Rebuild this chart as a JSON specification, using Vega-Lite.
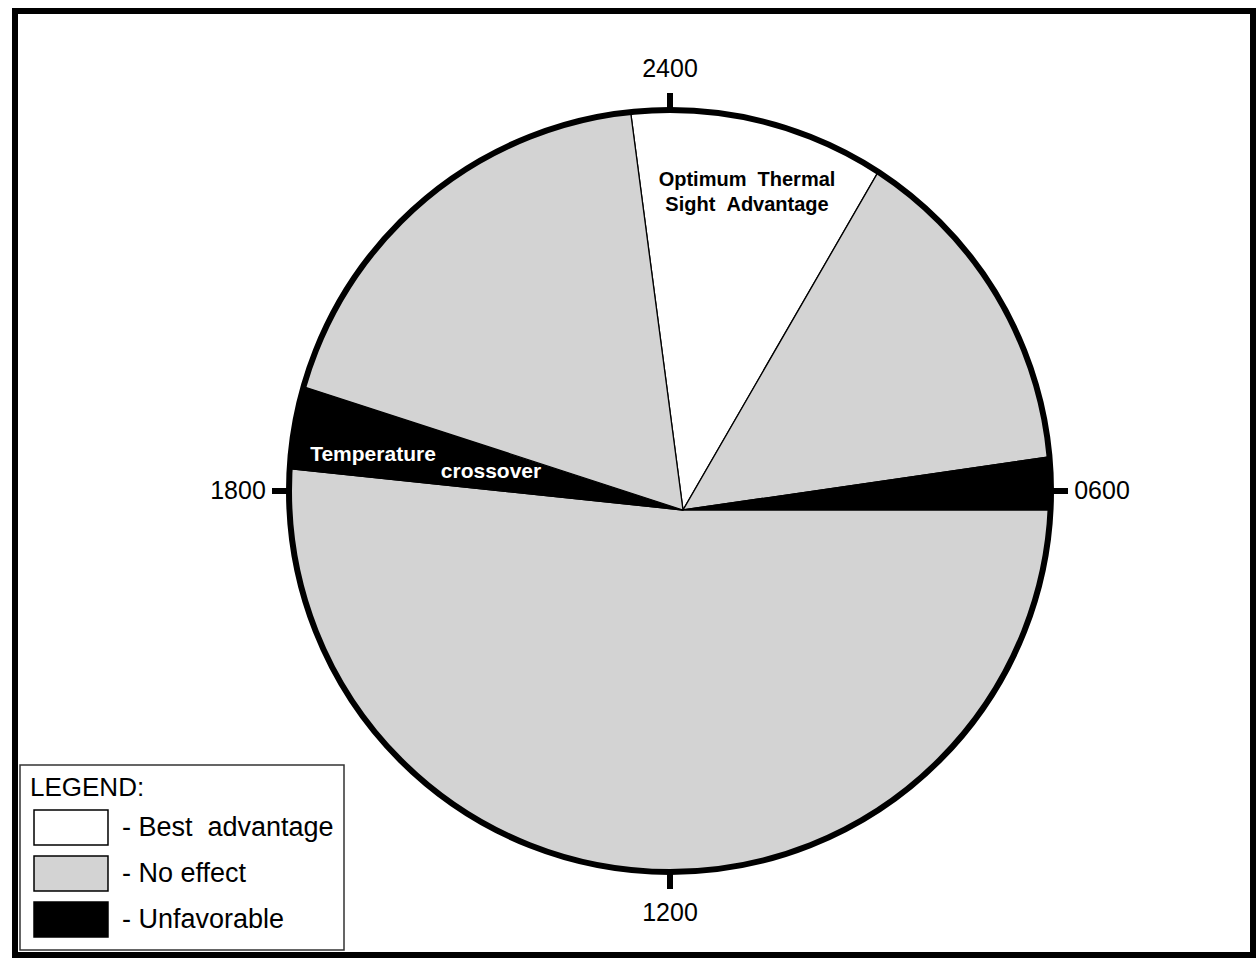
{
  "$schema": "https://vega.github.io/schema/vega-lite/v6.json",
  "width": 1256,
  "height": 961,
  "autosize": {"type": "fit", "contains": "padding"},
  "padding": {"left": 15, "top": 11, "right": 3, "bottom": 6},
  "background": "white",
  "config": {"view": {"stroke": "black", "strokeWidth": 6}, "font": "Liberation Sans", "legend": {"strokeWidth": 1.5}},
  "datasets": {
    "periods": [
      {"start": 23.5, "end": 26.0, "effect": "Best advantage"},
      {"start": 2.0, "end": 5.45, "effect": "No effect"},
      {"start": 5.45, "end": 6.0, "effect": "Unfavorable"},
      {"start": 6.0, "end": 18.4, "effect": "No effect"},
      {"start": 18.4, "end": 19.2, "effect": "Unfavorable"},
      {"start": 19.2, "end": 23.5, "effect": "No effect"}
    ],
    "clock": [
      {"hour": 0, "label": "2400"},
      {"hour": 6, "label": "0600"},
      {"hour": 12, "label": "1200"},
      {"hour": 18, "label": "1800"}
    ]
  },
  "layer": [
    {
      "data": {"name": "periods"},
      "mark": {"type": "arc", "outerRadius": 410, "stroke": "black", "strokeWidth": 1.3},
      "encoding": {
        "x": {"datum": 13, "type": "quantitative", "scale": {"domain": [-655, 583], "nice": false, "zero": false}, "axis": null},
        "y": {"datum": -19, "type": "quantitative", "scale": {"domain": [-464, 480], "nice": false, "zero": false}, "axis": null},
        "theta": {"field": "start", "type": "quantitative", "stack": null, "scale": {"domain": [0, 24], "range": [0, 6.283185307179586], "zero": false, "nice": false}},
        "theta2": {"field": "end"},
        "color": {
          "field": "effect",
          "type": "nominal",
          "scale": {"domain": ["Best advantage", "No effect", "Unfavorable"], "range": ["#ffffff", "#d3d3d3", "#000000"]},
          "legend": {
            "orient": "none",
            "legendX": 5,
            "legendY": 754,
            "title": "LEGEND:",
            "titleFont": "Liberation Sans",
            "titleFontSize": 26,
            "titleFontWeight": "normal",
            "titleColor": "black",
            "titlePadding": 8,
            "labelFont": "Liberation Sans",
            "labelFontSize": 27,
            "labelColor": "black",
            "labelLimit": 0,
            "labelExpr": "'- ' + replace(datum.label, 'Best ', 'Best\u00a0 ')",
            "labelOffset": 32.5,
            "symbolType": "M-2.114,-1H2.114V1H-2.114Z",
            "symbolSize": 1225,
            "symbolOffset": 22.5,
            "symbolStrokeColor": "black",
            "symbolStrokeWidth": 1.5,
            "symbolOpacity": 1,
            "rowPadding": 5,
            "padding": 10,
            "strokeColor": "#333333",
            "fillColor": "white",
            "zindex": 1
          }
        }
      }
    },
    {
      "data": {"values": [{}]},
      "mark": {"type": "arc", "theta": 0, "theta2": 6.2832, "innerRadius": 381, "outerRadius": 440, "fill": "white"},
      "encoding": {
        "x": {"datum": 0, "type": "quantitative", "scale": {"domain": [-655, 583], "nice": false, "zero": false}, "axis": null},
        "y": {"datum": 0, "type": "quantitative", "scale": {"domain": [-464, 480], "nice": false, "zero": false}, "axis": null}
      }
    },
    {
      "data": {"values": [{}]},
      "mark": {"type": "arc", "theta": 0, "theta2": 6.2832, "outerRadius": 381, "filled": false, "stroke": "black", "strokeWidth": 6},
      "encoding": {
        "x": {"datum": 0, "type": "quantitative", "axis": null},
        "y": {"datum": 0, "type": "quantitative", "axis": null}
      }
    },
    {
      "data": {"name": "clock"},
      "mark": {"type": "arc", "innerRadius": 381, "outerRadius": 398, "filled": false, "stroke": "black", "strokeWidth": 6, "strokeJoin": "bevel"},
      "encoding": {
        "x": {"datum": 0, "type": "quantitative", "axis": null},
        "y": {"datum": 0, "type": "quantitative", "axis": null},
        "theta": {"field": "hour", "type": "quantitative", "stack": null},
        "theta2": {"field": "hour"}
      }
    },
    {
      "data": {"name": "clock"},
      "mark": {"type": "text", "radius": {"expr": "datum.hour % 12 == 0 ? 422 : 432"}, "fontSize": 25, "align": "center", "baseline": "middle", "color": "black"},
      "encoding": {
        "x": {"datum": 0, "type": "quantitative", "axis": null},
        "y": {"datum": 0, "type": "quantitative", "axis": null},
        "theta": {"field": "hour", "type": "quantitative", "stack": null},
        "text": {"field": "label"}
      }
    },
    {
      "data": {"values": [{}]},
      "mark": {"type": "text", "text": ["Optimum \u00a0Thermal", "Sight \u00a0Advantage"], "fontSize": 20, "fontWeight": "bold", "lineHeight": 25, "align": "center", "baseline": "middle", "color": "black"},
      "encoding": {
        "x": {"datum": 77, "type": "quantitative", "axis": null},
        "y": {"datum": 311, "type": "quantitative", "axis": null}
      }
    },
    {
      "data": {"values": [{}]},
      "mark": {"type": "text", "text": "Temperature", "fontSize": 21, "fontWeight": "bold", "align": "center", "baseline": "middle", "color": "white"},
      "encoding": {
        "x": {"datum": -297, "type": "quantitative", "axis": null},
        "y": {"datum": 36, "type": "quantitative", "axis": null}
      }
    },
    {
      "data": {"values": [{}]},
      "mark": {"type": "text", "text": "crossover", "fontSize": 21, "fontWeight": "bold", "align": "center", "baseline": "middle", "color": "white"},
      "encoding": {
        "x": {"datum": -179, "type": "quantitative", "axis": null},
        "y": {"datum": 19, "type": "quantitative", "axis": null}
      }
    }
  ]
}
